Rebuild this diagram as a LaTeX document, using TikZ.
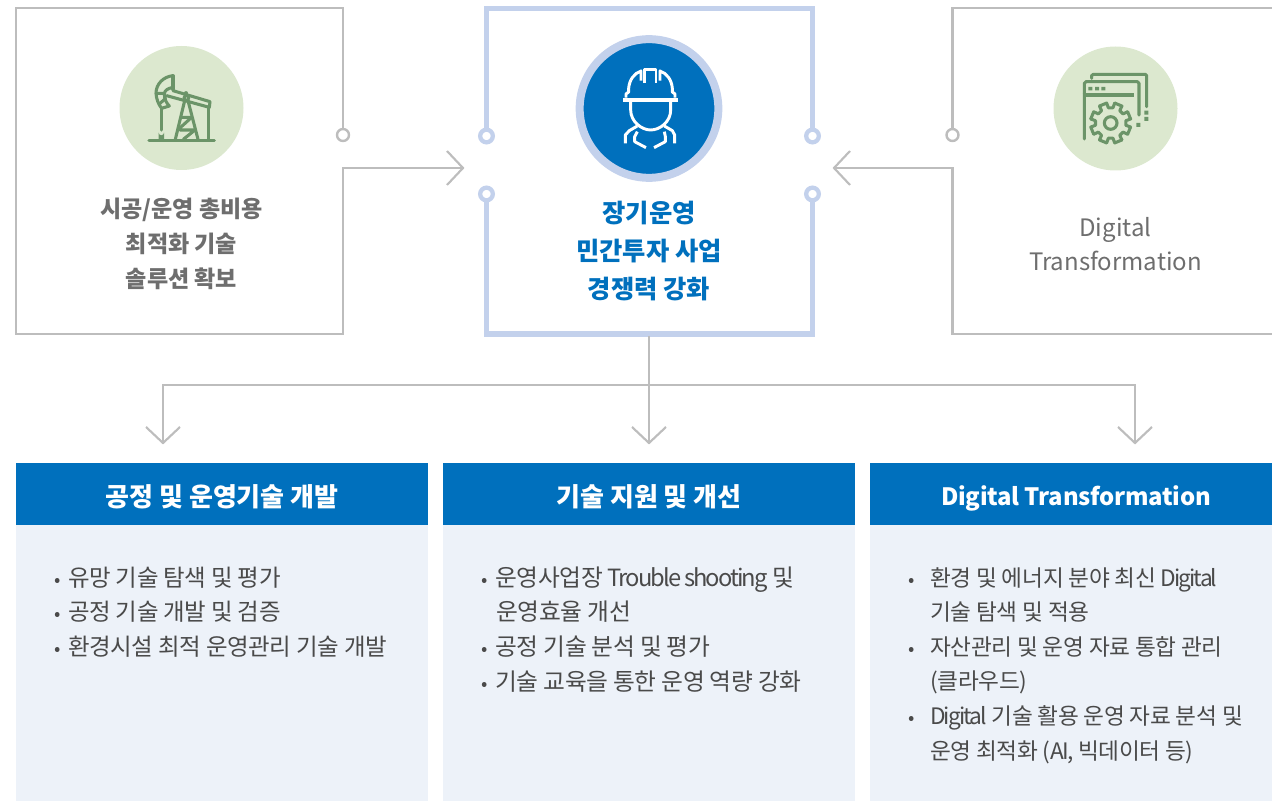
\documentclass[tikz,border=0pt]{standalone}
\usepackage{fontspec}
\setmainfont{Noto Sans CJK KR}
\newfontfamily\listfont[LetterSpace=-1.5]{Noto Sans CJK KR}
\newfontfamily\listlat[LetterSpace=-8.5]{Noto Sans CJK KR}
\newfontfamily\barlat[LetterSpace=-1]{Noto Sans CJK KR}
\usetikzlibrary{calc}
\definecolor{lineg}{HTML}{BDBDBD}
\definecolor{ringb}{HTML}{C3D1EC}
\definecolor{mainb}{HTML}{0070BD}
\definecolor{paleb}{HTML}{EDF2F9}
\definecolor{paleg}{HTML}{DCE8CF}
\definecolor{icong}{HTML}{6B9468}
\definecolor{txtg}{HTML}{6E6E6E}
\definecolor{txtd}{HTML}{4A4A4A}
\tikzset{
  x=0.75pt,y=-0.75pt,
  greyline/.style={draw=lineg,line width=2.2pt,line join=miter},
  blueline/.style={draw=ringb,line width=4.2pt},
  arrowline/.style={draw=lineg,line width=1.2pt},
  chev/.style={draw=lineg,line width=1.6pt},
  greyring/.style={circle,draw=lineg,line width=1.8pt,fill=white,minimum size=9pt,inner sep=0pt},
  bluering/.style={circle,draw=ringb,line width=3.2pt,fill=white,minimum size=9.5pt,inner sep=0pt},
  sidetext/.style={align=center,text=txtg,font=\fontsize{17.3}{26}\selectfont\bfseries},
  dtext/.style={align=center,text=txtg,font=\fontsize{18}{25.5}\selectfont},
  maintext/.style={align=center,text=mainb,font=\fontsize{19}{28.5}\selectfont\bfseries},
  barbox/.style={fill=mainb,text=white,minimum height=46.5pt,inner sep=0pt,font=\fontsize{19.5}{22}\selectfont\bfseries},
  lia/.style={anchor=base west,inner sep=0pt,text=txtd,font=\fontsize{17.6}{20}\listfont},
  li/.style={anchor=base west,inner sep=0pt,text=txtd,font=\fontsize{17.8}{20}\listfont},
  lic/.style={anchor=base west,inner sep=0pt,text=txtd,font=\fontsize{17}{20}\listfont},
  icon/.style={draw=icong,line width=2.3pt,line cap=round,line join=round},
  wicon/.style={draw=white,line width=2.2pt,line join=round},
}
\newcommand{\bul}{\makebox[10.5pt][l]{\raisebox{0pt}{\fontsize{14}{14}\selectfont •}}}
\newcommand{\bulw}{\makebox[16.5pt][l]{\raisebox{0pt}{\fontsize{14}{14}\selectfont •}}}
\newcommand{\ltn}[1]{{\listlat #1}}
\begin{document}
\begin{tikzpicture}
\useasboundingbox (0,0) rectangle (1272,802);
% --- corners
\coordinate (ltr) at (343,8);
\coordinate (ltl) at (16,8);
\coordinate (lbl) at (16,334);
\coordinate (lbr) at (343,334);
\coordinate (lel) at (343,168);
\coordinate (ltip) at (463,168);
\coordinate (rtl) at (952.5,8);
\coordinate (rte) at (1272,8);
\coordinate (rbe) at (1272,334);
\coordinate (rbl) at (952.5,334);
\coordinate (rel) at (952.5,168);
\coordinate (rtip) at (834,168);
\coordinate (ctl) at (486.5,8.5);
\coordinate (ctr) at (812.5,8.5);
\coordinate (cbl) at (486.5,334);
\coordinate (cbr) at (812.5,334);
% --- left and right frames
\node[greyring] (lring) at (343,135) {};
\node[greyring] (rring) at (952.5,135) {};
\draw[greyline] (lring) -- (ltr) -- (ltl) -- (lbl) -- (lbr) -- (lel) -- (ltip);
\draw[greyline] (rte) -- (rtl) -- (rring);
\draw[greyline] (rbe) -- (rbl) -- (rel) -- (rtip);
\draw[chev] (447,151) -- (ltip) -- (447,185);
\draw[chev] (850,151) -- (rtip) -- (850,185);
% --- centre frame
\node[bluering] (r1) at (486.5,136) {};
\node[bluering] (r2) at (812.5,136) {};
\node[bluering] (r3) at (486.5,194) {};
\node[bluering] (r4) at (812.5,194) {};
\draw[blueline] (r1) -- (ctl) -- (ctr) -- (r2);
\draw[blueline] (r3) -- (cbl) -- (cbr) -- (r4);
% --- circles
\node[circle,fill=paleg,minimum size=93pt,inner sep=0pt] (c1) at (181.5,108) {};
\node[circle,fill=paleg,minimum size=93pt,inner sep=0pt] (c3) at (1115.5,108.5) {};
\node[circle,fill=mainb,draw=ringb,line width=6pt,minimum size=104pt,inner sep=0pt] (c2) at (649,108.5) {};
% --- pump jack icon
\begin{scope}[shift={(100,30)},x=0.25pt,y=-0.25pt]
\draw[icon] (147,331) -- (343,331);
\draw[icon] (219,137) .. controls (190,140) and (168,162) .. (168,190) .. controls (169,208) and (176,224) .. (185,235);
\draw[icon] (219,137) -- (219,178);
\draw[icon] (219,172) .. controls (205,175) and (193,180) .. (193,193) .. controls (193,208) and (200,220) .. (208,228) -- (185,235);
\draw[icon] (170,190) -- (193,190) (178,222) -- (197,205);
\draw[icon] (219,182) -- (330,215) -- (328,232) -- (200,197);
\draw[icon] (325,232) -- (325,328);
\draw[icon] (184,235) -- (184,300);
\fill[icong] (176,328) -- (176,308) arc (180:0:8) -- (192,328) -- cycle;
\draw[icon] (258,188) -- (258,200);
\draw[icon] (254,212) -- (226,328) (264,212) -- (294,328);
\draw[icon] (243,262) -- (275,262) (233,300) -- (275,262) (240,300) -- (285,300) (250,328) -- (285,300);
\draw[icon,fill=paleg] (259,204) circle (7);
\end{scope}
% --- worker icon
\begin{scope}[shift={(560,20)},x=0.25pt,y=-0.25pt]
\fill[white] (189,233) rectangle (355,246);
\draw[wicon] (198,233) -- (198,222) -- (206,216) -- (206,205) .. controls (208,180) and (222,160) .. (243,153) -- (243,182);
\draw[wicon] (345,233) -- (345,222) -- (337,216) -- (337,205) .. controls (335,180) and (321,160) .. (300,153) -- (300,182);
\draw[wicon] (254,188) -- (254,148) -- (288,148) -- (288,188);
\draw[wicon] (212,246) -- (212,270) .. controls (212,305) and (245,330) .. (272,330) .. controls (300,330) and (332,305) .. (332,270) -- (332,246);
\draw[wicon] (232,318) -- (208,332) -- (196,345) -- (196,370);
\draw[wicon] (313,318) -- (337,332) -- (344,345) -- (344,370);
\draw[wicon] (232,335) -- (224,350) -- (224,365) -- (258,383);
\draw[wicon] (313,335) -- (316,350) -- (316,365) -- (282,383);
\end{scope}
% --- gear icon
\begin{scope}[shift={(1040,35)},x=0.25pt,y=-0.25pt]
\draw[icon] (155,130) -- (155,122) -- (160,118) -- (316,118) -- (320,122) -- (320,215);
\draw[icon] (133,312) -- (133,145) -- (138,140) -- (292,140) -- (297,145) -- (297,240);
\draw[icon,line width=3.2pt,line cap=butt] (128,180) -- (283,180);
\fill[icong] (145,156) rectangle +(12,10) (165,156) rectangle +(12,10) (184,156) rectangle +(12,10);
\fill[icong] (313,227) rectangle +(12,12) (313,246) rectangle +(12,12) (289,264) rectangle +(12,12);
\draw[icon,fill=paleg] (212,264) circle (19);
\foreach \k in {0,...,7}{
  \pgfmathsetmacro{\a}{\k*45+22.5}
  \draw[icon] ($(212,264)+({\a-11}:61)$) -- ($(212,264)+({\a+11}:61)$) -- ($(212,264)+({\a+14}:46)$) -- ($(212,264)+({\a+31}:46)$) -- ($(212,264)+({\a+34}:61)$);
}
\end{scope}
% --- top texts
\node[sidetext] (t1) at (181.5,244) {시공/운영 총비용\\최적화 기술\\솔루션 확보};
\node[maintext] (t2) at (649,251) {장기운영\\민간투자 사업\\경쟁력 강화};
\node[dtext] (t3) at (1115.5,244) {Digital\\Transformation};
% --- distribution
\coordinate (dl) at (163,385);
\coordinate (dr) at (1135,385);
\coordinate (tl) at (163,443);
\coordinate (tm) at (649,443);
\coordinate (tr) at (1135,443);
\coordinate (cb) at (649,336);
\draw[arrowline] (cb) -- (tm);
\draw[arrowline] (tl) -- (dl) -- (dr) -- (tr);
\draw[chev] (146,427) -- (tl) -- (180,427);
\draw[chev] (632,427) -- (tm) -- (666,427);
\draw[chev] (1118,427) -- (tr) -- (1152,427);
% --- bodies
\path[fill=paleb] (16,525) rectangle (428,801);
\path[fill=paleb] (443,525) rectangle (855,801);
\path[fill=paleb] (870,525) rectangle (1272,801);
\node[barbox,minimum width=309pt] (b1) at (222,494) {\raisebox{-2.4pt}[\height][\depth]{공정 및 운영기술 개발}};
\node[barbox,minimum width=309pt] (b2) at (649,494) {\raisebox{-2.4pt}[\height][\depth]{기술 지원 및 개선}};
\node[barbox,minimum width=301.5pt] (b3) at (1071,494) {\hspace{7.5pt}\raisebox{-3.4pt}[\height][\depth]{\fontsize{17.9}{22}\barlat\bfseries Digital Transformation}};
% --- list 1
\node[lia] (a1) at (54,586) {\bul 유망 기술 탐색 및 평가};
\node[lia] (a2) at (54,620) {\bul 공정 기술 개발 및 검증};
\node[lia] (a3) at (54,655) {\bul 환경시설 최적 운영관리 기술 개발};
% --- list 2
\node[li] (d1) at (481,586) {\bul 운영사업장 \ltn{Trouble shooting} 및};
\node[li] (d2) at (496,620) {운영효율 개선};
\node[li] (d3) at (481,655) {\bul 공정 기술 분석 및 평가};
\node[li] (d4) at (481,690) {\bul 기술 교육을 통한 운영 역량 강화};
% --- list 3
\node[lic] (g1) at (908,586) {\bulw 환경 및 에너지 분야 최신 \ltn{Digital}};
\node[lic] (g2) at (930,620) {기술 탐색 및 적용};
\node[lic] (g3) at (908,655) {\bulw 자산관리 및 운영 자료 통합 관리};
\node[lic] (g4) at (930,689) {(클라우드)};
\node[lic] (g5) at (908,724) {\bulw \ltn{Digital} 기술 활용 운영 자료 분석 및};
\node[lic] (g6) at (930,759) {운영 최적화 (\ltn{AI,} 빅데이터 등)};
\end{tikzpicture}
\end{document}
